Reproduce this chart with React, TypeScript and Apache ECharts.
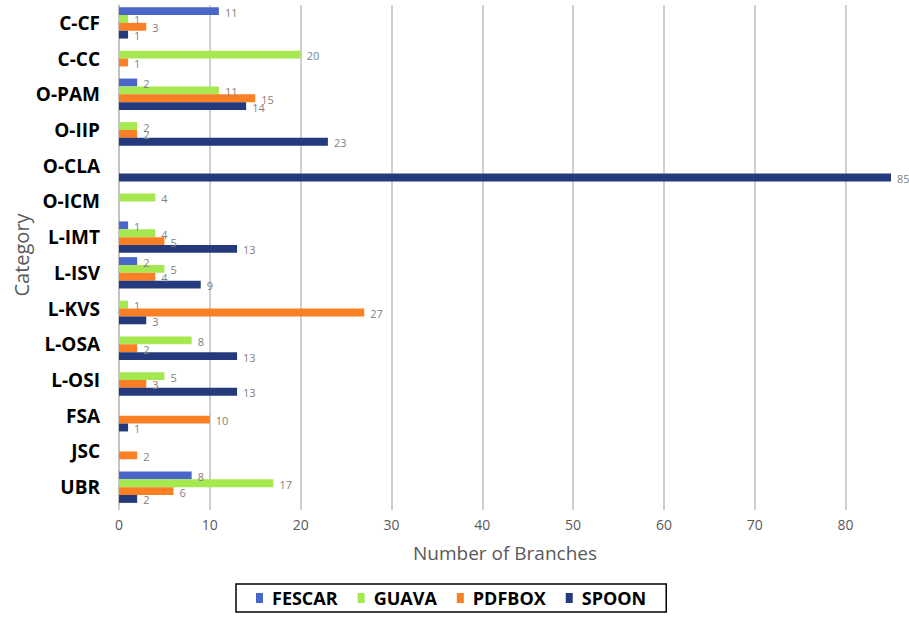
import React, { useEffect, useRef } from "react";
import * as echarts from "echarts";

const categories = ["C-CF", "C-CC", "O-PAM", "O-IIP", "O-CLA", "O-ICM", "L-IMT", "L-ISV", "L-KVS", "L-OSA", "L-OSI", "FSA", "JSC", "UBR"];
const fescar = [11, 0, 2, 0, 0, 0, 1, 2, 0, 0, 0, 0, 0, 8];
const guava = [1, 20, 11, 2, 0, 4, 4, 5, 1, 8, 5, 0, 0, 17];
const pdfbox = [3, 1, 15, 2, 0, 0, 5, 4, 27, 2, 3, 10, 2, 6];
const spoon = [1, 0, 14, 23, 85, 0, 13, 9, 3, 13, 13, 1, 0, 2];

const seriesNames = ["FESCAR", "GUAVA", "PDFBOX", "SPOON"];
const seriesData = [fescar, guava, pdfbox, spoon];
const colors = ["#4a66c8", "#a6e84f", "#fb7f24", "#253a7d"];

export default function App() {
  const ref = useRef<HTMLDivElement>(null);
  useEffect(() => {
    const chart = echarts.init(ref.current!, null, { renderer: "svg" });
    const font = "'Open Sans', 'Noto Sans', sans-serif";
    chart.setOption({
      animation: false,
      textStyle: { fontFamily: font },
      grid: { left: 119, right: 18, top: 5, bottom: 113, containLabel: false, outerBoundsMode: "none" },
      legend: {
        left: 236,
        top: 584,
        data: seriesNames,
        icon: "rect",
        itemWidth: 7,
        itemHeight: 10,
        itemGap: 20,
        padding: [5, 20, 5, 20],
        borderColor: "#000",
        borderWidth: 1.5,
        textStyle: { fontFamily: font, fontSize: 18, fontWeight: "bold", color: "#000", padding: [0, 0, 0, 4] },
      },
      xAxis: {
        type: "value",
        min: 0,
        max: 85,
        interval: 10,
        name: "Number of Branches",
        nameLocation: "middle",
        nameGap: 38,
        nameMoveOverlap: false,
        nameTextStyle: { fontSize: 19, color: "#595959", fontFamily: font },
        axisLine: { show: false },
        axisTick: { show: true, length: 5, lineStyle: { color: "#bfbfbf", width: 1.5 } },
        axisLabel: { fontSize: 14, color: "#595959", margin: 12, showMaxLabel: false, fontFamily: font },
        splitLine: { show: true, showMaxLine: false, lineStyle: { color: "#bfbfbf", width: 1.5 } },
      },
      yAxis: {
        type: "category",
        data: categories,
        inverse: true,
        name: "Category",
        nameLocation: "middle",
        nameRotate: 90,
        nameGap: 88,
        nameMoveOverlap: false,
        nameTextStyle: { fontSize: 20, color: "#595959", fontFamily: font },
        axisLine: { show: true, lineStyle: { color: "#bfbfbf", width: 1.5 } },
        axisTick: { show: false },
        axisLabel: { fontSize: 19, fontWeight: "bold", color: "#000", margin: 19, fontFamily: font },
      },
      series: seriesNames.map((name, i) => ({
        name,
        type: "bar",
        data: seriesData[i],
        barCategoryGap: "12%",
        barGap: "0%",
        itemStyle: { color: colors[i] },
        label: {
          show: true,
          position: "right",
          distance: 6,
          offset: [0, 1],
          fontSize: 11,
          color: "#7f7f7f",
          fontFamily: font,
          formatter: (p: any) => (p.value === 0 ? "" : String(p.value)),
        },
      })),
    });
    return () => chart.dispose();
  }, []);
  return <div ref={ref} style={{ width: 909, height: 618, position: "absolute", left: 0, top: 0, background: "#fff" }} />;
}
